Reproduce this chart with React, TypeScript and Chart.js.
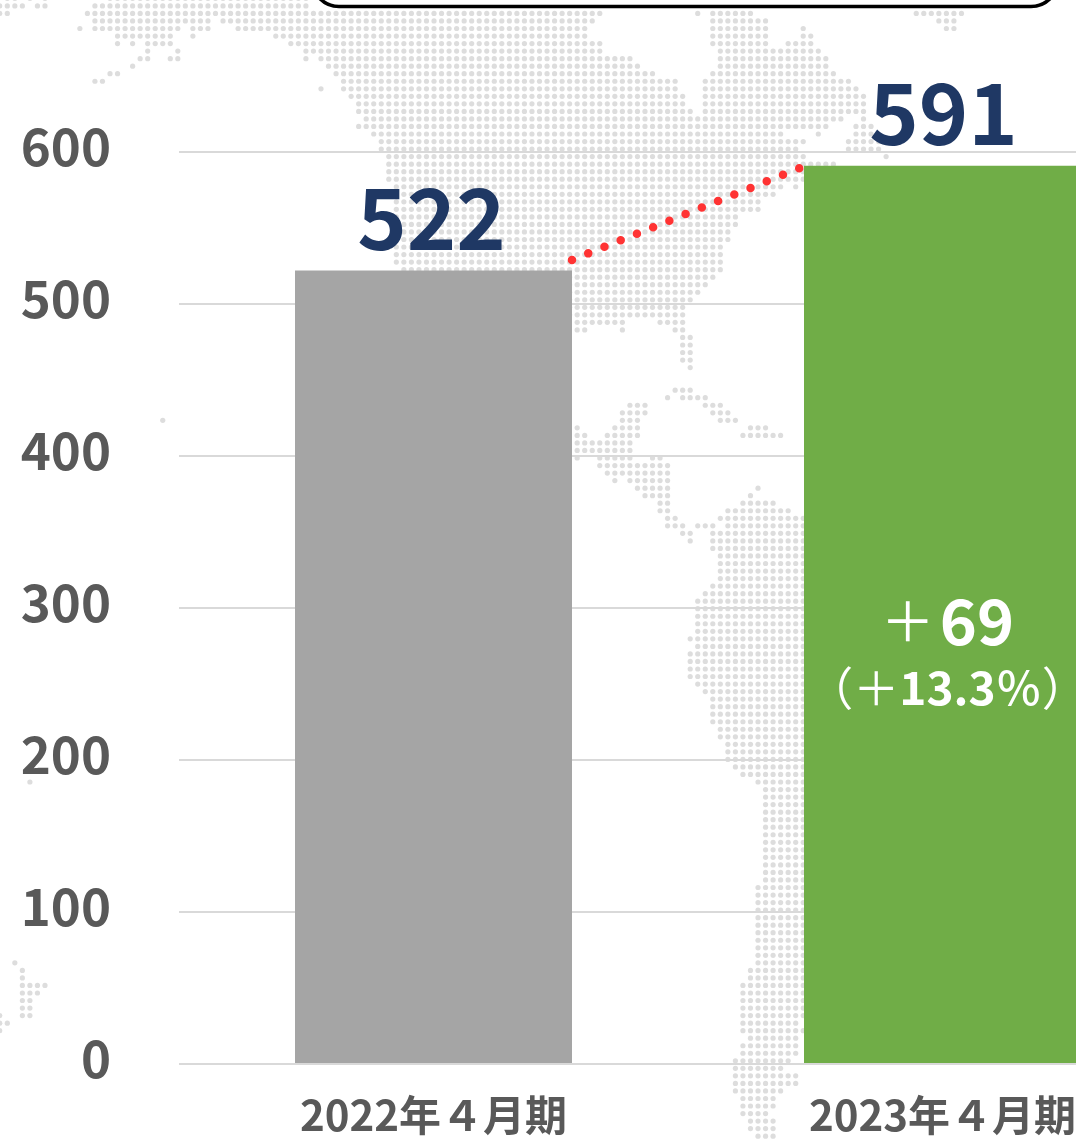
import React, { useEffect, useRef } from "react";
import { Chart, registerables } from "chart.js";

Chart.register(...registerables);

const categories = ["2022年４月期", "2023年４月期"];
const sales = [522, 591];
const barColors = ["#a5a5a5", "#70ad47"];
const yTicks = [0, 100, 200, 300, 400, 500, 600];
// dotted connector: x is the fractional category index, y the axis value
const connector = [
  { x: 0.2721, y: 529 },
  { x: 0.72, y: 589.5 },
];
const deltaLine1 = [
  { text: "＋", weight: 400, size: 54, rise: 3, gap: 5 },
  { text: "69", weight: 700, size: 63, rise: 0, gap: 0 },
];
const deltaLine2 = [
  { text: "（＋", weight: 400, size: 46, rise: 0, gap: 0 },
  { text: "13.3", weight: 700, size: 46, rise: 0, gap: 0 },
  { text: "％", weight: 500, size: 46, rise: 0, gap: 0 },
  { text: "）", weight: 400, size: 46, rise: 0, gap: 0 },
];

// decorative dotted world map: [row, from, to, from, to, ...] in grid cells
const mapRows: number[][] = [
  [-1, 3, 29, -10.63, -9.63, -7.63, -7.63, -5.63, -5.63],
  [0, 1, 29, -11.63, -8.63, -6.63, -5.63],
  [1, 0, 68, 81, 81, 83, 88, 110, 116, -11.63, -10.63],
  [2, 1, 16, 18, 67, 83, 90, 113, 115],
  [3, -1, -1, 1, 12, 14, 16, 20, 66, 83, 90, 95, 95, 114, 115],
  [4, 4, 11, 14, 14, 25, 66, 83, 90, 95, 96],
  [5, 4, 4, 6, 6, 8, 11, 27, 68, 83, 90, 93, 96],
  [6, 8, 8, 12, 12, 29, 68, 84, 97],
  [7, 7, 8, 11, 12, 29, 29, 31, 72, 84, 98],
  [8, 6, 6, 32, 73, 84, 98],
  [9, 3, 4, 33, 75, 83, 99],
  [10, 1, 2, 34, 78, 82, 101],
  [11, 31, 31, 34, 78, 82, 102],
  [12, 35, 79, 82, 103],
  [13, 36, 79, 82, 103],
  [14, 36, 80, 82, 103],
  [15, 37, 100, 103, 103],
  [16, 36, 98, 102, 104],
  [17, 38, 92, 97, 97, 102, 104],
  [18, 39, 95, 101, 105],
  [19, 39, 94, 101, 105],
  [20, 40, 95, 106, 106],
  [21, 40, 99],
  [22, 40, 95],
  [23, 40, 95],
  [24, 41, 92, 94, 94],
  [25, 41, 91],
  [26, 41, 89],
  [27, 41, 89],
  [28, 41, 86],
  [29, 41, 86],
  [30, 41, 85],
  [31, 41, 85],
  [32, 41, 84],
  [33, 41, 84],
  [34, 41, 84],
  [35, 42, 84],
  [36, 42, 83],
  [37, 64, 82],
  [38, 64, 81],
  [39, 64, 80],
  [40, 64, 79],
  [41, 64, 79],
  [42, 65, 71, 76, 79],
  [43, 65, 66, 71, 71, 78, 79],
  [44, 79, 80],
  [45, 79, 80],
  [46, 79, 80],
  [47, 79, 80],
  [48, 80, 80],
  [51, 78, 80],
  [52, 77, 77, 79, 82],
  [53, 72, 74, 82, 84],
  [54, 71, 74, 83, 85],
  [55, 71, 73, 84, 86, 10, 10],
  [56, 65, 65, 70, 73, 88, 90],
  [57, 65, 66, 69, 73, 87, 92],
  [58, 65, 72],
  [59, 65, 72],
  [60, 65, 65, 68, 72, 75, 76],
  [61, 68, 77],
  [62, 69, 77],
  [63, 70, 70, 72, 77],
  [64, 73, 77, 89, 89],
  [65, 74, 77, 88, 88],
  [66, 76, 77, 87, 91],
  [67, 76, 77, 85, 93],
  [68, 77, 78, 84, 95],
  [69, 77, 79, 81, 83, 85, 95],
  [70, 79, 80, 83, 95],
  [71, 80, 80, 83, 95],
  [72, 83, 95],
  [73, 84, 95],
  [74, 84, 95],
  [75, 84, 95],
  [76, 84, 95],
  [77, 83, 95],
  [78, 82, 95],
  [79, 81, 95],
  [80, 81, 95],
  [81, 81, 95],
  [82, 81, 95],
  [83, 81, 95],
  [84, 80, 95],
  [85, 81, 95],
  [86, 80, 95],
  [87, 80, 95],
  [88, 80, 95],
  [89, 80, 95],
  [90, 81, 95],
  [91, 82, 95],
  [92, 83, 95],
  [93, 83, 95],
  [94, 83, 95],
  [95, 83, 95],
  [96, 84, 95],
  [97, 84, 95],
  [98, 85, 95],
  [99, 85, 95],
  [100, 85, 95],
  [101, 86, 95],
  [102, 87, 95],
  [103, 89, 95, -7.63, -7.63],
  [104, 90, 95],
  [105, 90, 95],
  [106, 90, 95],
  [107, 90, 95],
  [108, 90, 95],
  [109, 90, 95],
  [110, 90, 95],
  [111, 90, 95],
  [112, 90, 95],
  [113, 90, 95],
  [114, 90, 95],
  [115, 90, 95],
  [116, 90, 95],
  [117, 89, 95],
  [118, 89, 95],
  [119, 89, 95],
  [120, 89, 95],
  [121, 89, 95],
  [122, 89, 95],
  [123, 89, 95],
  [124, 89, 95],
  [125, 89, 95],
  [126, 89, 95],
  [127, 89, 95, -9.63, -9.63],
  [128, 88, 95, -8.63, -8.63],
  [129, 88, 95, -8.63, -8.63],
  [130, 87, 95, -8.63, -5.63],
  [131, 87, 95, -8.63, -6.63],
  [132, 87, 95, -8.63, -7.63],
  [133, 87, 95, -8.63, -7.63],
  [134, 87, 95, -11.63, -11.63, -8.63, -7.63],
  [135, 87, 94, -11.63, -10.63],
  [136, 87, 95, -11.63, -11.63],
  [137, 88, 94],
  [138, 87, 94],
  [139, 87, 94],
  [140, 86, 93],
  [141, 86, 92],
  [142, 86, 94],
  [143, 86, 94],
  [144, 86, 92],
  [145, 87, 91],
  [146, 87, 91],
  [147, 87, 90],
  [148, 88, 91],
  [149, 88, 91],
  [150, 89, 91],
  [151, 90, 93],
];

const FONT = '"Noto Sans CJK JP", "Noto Sans", sans-serif';
const MAP_X0 = 87.4;
const MAP_Y0 = 5.9;
const MAP_STEP = 7.535;

function drawRuns(
  ctx: CanvasRenderingContext2D,
  runs: { text: string; weight: number; size: number; rise: number; gap: number }[],
  cx: number,
  baseline: number,
  color: string
) {
  ctx.fillStyle = color;
  ctx.textBaseline = "alphabetic";
  ctx.textAlign = "left";
  let total = 0;
  for (const r of runs) {
    ctx.font = `${r.weight} ${r.size}px ${FONT}`;
    total += ctx.measureText(r.text).width + r.gap;
  }
  let x = cx - total / 2;
  for (const r of runs) {
    ctx.font = `${r.weight} ${r.size}px ${FONT}`;
    ctx.fillText(r.text, x, baseline - r.rise);
    x += ctx.measureText(r.text).width + r.gap;
  }
}

const mapPlugin = {
  id: "dottedMap",
  beforeDraw(chart: any) {
    const ctx = chart.ctx;
    ctx.save();
    ctx.fillStyle = "#ffffff";
    ctx.fillRect(0, 0, chart.width, chart.height);
    ctx.fillStyle = "#dddddd";
    for (const row of mapRows) {
      const y = MAP_Y0 + row[0] * MAP_STEP;
      for (let i = 1; i < row.length; i += 2) {
        for (let c = row[i]; c <= row[i + 1]; c += 1) {
          ctx.beginPath();
          ctx.arc(MAP_X0 + c * MAP_STEP, y, 2.6, 0, Math.PI * 2);
          ctx.fill();
        }
      }
    }
    ctx.restore();
  },
};

const labelPlugin = {
  id: "annotations",
  afterDraw(chart: any) {
    const ctx = chart.ctx;
    const bars = chart.getDatasetMeta(0).data;
    ctx.save();
    // value labels
    ctx.font = `700 84px ${FONT}`;
    ctx.fillStyle = "#1f3864";
    ctx.textAlign = "center";
    ctx.textBaseline = "alphabetic";
    sales.forEach((v, i) => {
      ctx.fillText(String(v), bars[i].x + (i === 0 ? -2 : 1), bars[i].y - 21);
    });
    // difference text in the second bar
    const cx = bars[1].x + 5;
    drawRuns(ctx, deltaLine1, cx, 645, "#ffffff");
    drawRuns(ctx, deltaLine2, cx, 705, "#ffffff");
    // bottom edge of the callout box at the top of the picture
    ctx.beginPath();
    ctx.roundRect(312, -60, 746, 66.5, 27);
    ctx.fillStyle = "#ffffff";
    ctx.fill();
    ctx.lineWidth = 3.6;
    ctx.strokeStyle = "#000000";
    ctx.stroke();
    ctx.restore();
  },
};

export default function App() {
  const ref = useRef<HTMLCanvasElement>(null);
  useEffect(() => {
    if (!ref.current) return;
    const chart = new Chart(ref.current, {
      type: "bar",
      data: {
        labels: categories,
        datasets: [
          {
            type: "bar",
            data: sales,
            backgroundColor: barColors,
            barPercentage: 277 / 509,
            categoryPercentage: 1,
            grouped: false,
            order: 1,
          } as any,
          {
            type: "line",
            data: connector as any,
            xAxisID: "xc",
            borderColor: "#ff3333",
            borderWidth: 8.5,
            borderCapStyle: "round",
            borderDash: [0, 17.5],
            pointRadius: 0,
            tension: 0,
            fill: false,
            order: 0,
            clip: false,
          } as any,
        ],
      },
      plugins: [mapPlugin, labelPlugin],
      options: {
        responsive: false,
        maintainAspectRatio: false,
        animation: false,
        devicePixelRatio: 1,
        layout: { autoPadding: false, padding: { top: 152, left: 0, right: 0, bottom: 0 } },
        plugins: { legend: { display: false }, tooltip: { enabled: false } },
        scales: {
          x: {
            type: "category",
            offset: true,
            grid: { display: false },
            border: { display: false },
            ticks: {
              color: "#595959",
              padding: 18,
              maxRotation: 0,
              autoSkip: false,
              font: { family: FONT, size: 42, weight: "700" },
            },
            afterFit(s: any) {
              s.height = 100;
            },
          },
          xc: { type: "linear", display: false, offset: false, min: -0.5, max: 1.5, grid: { offset: false } },
          y: {
            min: 0,
            max: 600,
            afterBuildTicks(s: any) {
              s.ticks = yTicks.map((value) => ({ value }));
            },
            grid: { color: "#d9d9d9", lineWidth: 2, drawTicks: false },
            border: { display: false },
            ticks: {
              color: "#595959",
              padding: 68,
              labelOffset: -5,
              font: { family: FONT, size: 51, weight: "700" },
            },
            afterFit(s: any) {
              s.width = 179;
            },
          },
        },
      } as any,
    });
    return () => chart.destroy();
  }, []);
  return (
    <div
      style={{
        position: "fixed",
        left: 0,
        top: 0,
        width: 1076,
        height: 1141,
        overflow: "hidden",
        background: "#fff",
      }}
    >
      <canvas ref={ref} width={1197} height={1164} style={{ display: "block" }} />
    </div>
  );
}
